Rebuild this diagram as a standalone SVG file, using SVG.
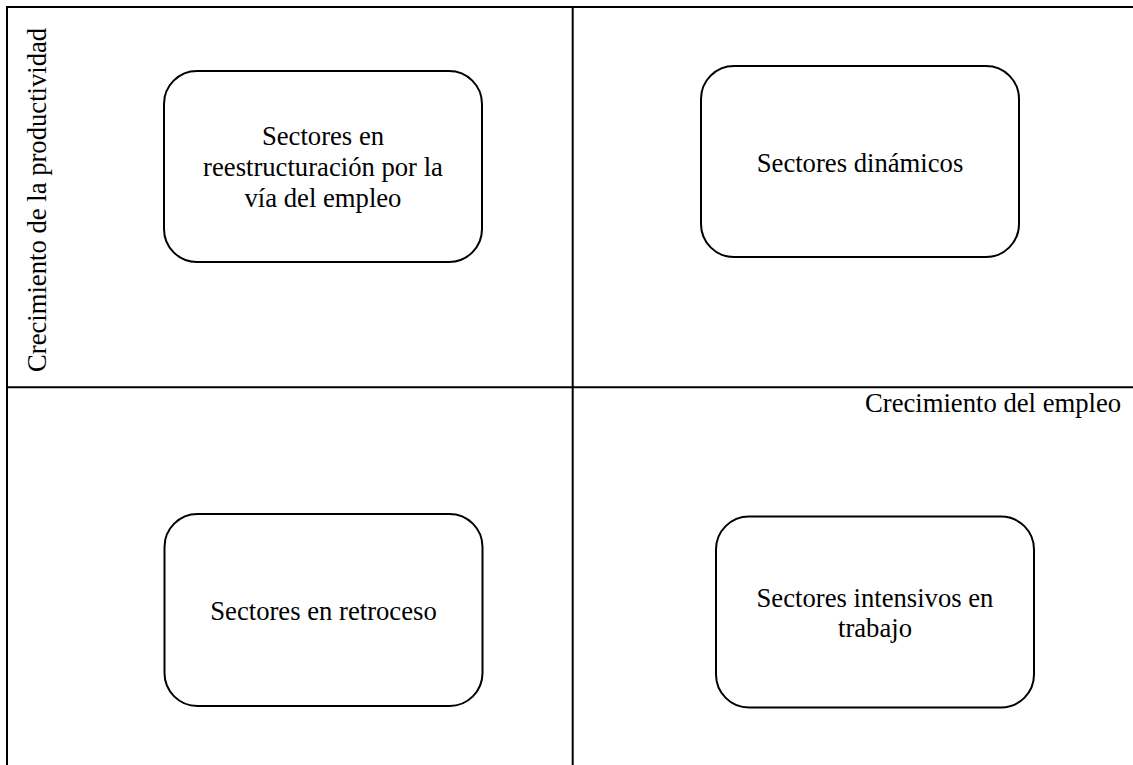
<svg xmlns="http://www.w3.org/2000/svg" width="1133" height="765" viewBox="0 0 1133 765">
<style>
.ln{stroke:#000;stroke-width:2;fill:none}
.bx{stroke:#000;stroke-width:2;fill:#fff}
text{font-family:'Times New Roman','Liberation Serif',serif;font-size:26.67px;fill:#000}
.c{text-anchor:middle}
</style>
<rect width="1133" height="765" fill="#fff"/>
<g id="connectors">
<line class="ln" x1="6" y1="7" x2="1133" y2="7"/>
<line class="ln" x1="7" y1="6" x2="7" y2="765"/>
<line class="ln" x1="572.7" y1="7" x2="572.7" y2="765"/>
<line class="ln" x1="7" y1="387.3" x2="1133" y2="387.3"/>
</g>
<g id="axis-y"><text transform="translate(45.5,372) rotate(-90)">Crecimiento de la productividad</text></g>
<g id="axis-x"><text x="865" y="412">Crecimiento del empleo</text></g>
<g id="n1">
<rect class="bx" x="164" y="71" width="318" height="191" rx="33" ry="33"/>
<text class="c" x="323" y="145">Sectores en</text>
<text class="c" x="323" y="176">reestructuración por la</text>
<text class="c" x="323" y="207">vía del empleo</text>
</g>
<g id="n2">
<rect class="bx" x="701" y="66" width="318" height="191" rx="33" ry="33"/>
<text class="c" x="860" y="172">Sectores dinámicos</text>
</g>
<g id="n3">
<rect class="bx" x="164.5" y="514" width="318" height="192" rx="33" ry="33"/>
<text class="c" x="323.5" y="620">Sectores en retroceso</text>
</g>
<g id="n4">
<rect class="bx" x="716" y="516.5" width="318" height="191" rx="33" ry="33"/>
<text class="c" x="875" y="607">Sectores intensivos en</text>
<text class="c" x="875" y="637">trabajo</text>
</g>
</svg>
